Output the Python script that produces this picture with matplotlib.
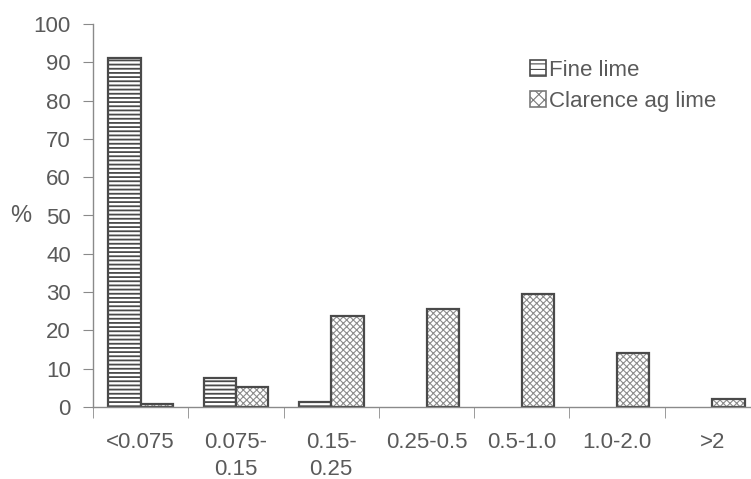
import matplotlib.pyplot as plt
from matplotlib.patches import Patch
import numpy as np

plt.rcParams['font.family'] = ['Liberation Sans', 'DejaVu Sans']

# size classes (mm) and % in each class
categories = ['<0.075', '0.075-\n0.15', '0.15-\n0.25', '0.25-0.5', '0.5-1.0', '1.0-2.0', '>2']
fine_lime = [91, 7.7, 1.3, 0, 0, 0, 0]
clarence = [0.8, 5.3, 23.8, 25.6, 29.5, 14.2, 2.2]

text_col = '#5a5a5a'
edge_col = '#4a4a4a'
axis_col = '#8a8a8a'

fig = plt.figure(figsize=(7.51, 4.79), dpi=100)
ax = fig.add_axes([93 / 751, 72 / 479, 667 / 751, 383 / 479])

x = np.arange(len(categories))
w = 0.34

# empty classes are not drawn at all
fx = [i for i, v in enumerate(fine_lime) if v > 0]
fv = [fine_lime[i] for i in fx]
cx = [i for i, v in enumerate(clarence) if v > 0]
cv = [clarence[i] for i in cx]

# Fine lime: dense horizontal stripes
plt.rcParams['hatch.linewidth'] = 1.3
ax.bar(np.array(fx) - w / 2, fv, w, color='white', edgecolor=edge_col,
       hatch='----', linewidth=1.6)

# Clarence ag lime: fine grey cross pattern, outline drawn on top
plt.rcParams['hatch.linewidth'] = 0.8
ax.bar(np.array(cx) + w / 2, cv, w, color='white', edgecolor='#8c8c8c',
       hatch='xxxxx', linewidth=0)
ax.bar(np.array(cx) + w / 2, cv, w, color='none', edgecolor=edge_col,
       linewidth=1.6)

handles = [
    Patch(facecolor='white', edgecolor=edge_col, hatch='---', linewidth=1.2, label='Fine lime'),
    Patch(facecolor='white', edgecolor='#7a7a7a', hatch='xxx', linewidth=1.2, label='Clarence ag lime'),
]

ax.set_xlim(-0.5, len(categories) - 0.5)
ax.set_ylim(0, 100)
ax.set_yticks(np.arange(0, 101, 10))
ax.set_xticks(x)
ax.set_xticklabels(categories, fontsize=16, color=text_col, linespacing=1.4)
ax.set_xticks(np.arange(-0.5, len(categories) + 0.5, 1), minor=True)
ax.tick_params(axis='x', which='major', length=0, pad=18)
ax.tick_params(axis='x', which='minor', length=8, color=axis_col, direction='out')
ax.tick_params(axis='y', length=7, color=axis_col, labelsize=16, labelcolor=text_col, pad=9)

for side in ['top', 'right']:
    ax.spines[side].set_visible(False)
for side in ['left', 'bottom']:
    ax.spines[side].set_color(axis_col)
    ax.spines[side].set_linewidth(1.0)

ax.set_ylabel('%', rotation=0, fontsize=17, color=text_col, va='center')
ax.yaxis.set_label_coords(-0.108, 0.5)

leg = ax.legend(handles=handles, loc='upper left', bbox_to_anchor=(0.642, 0.93),
                frameon=False, fontsize=16, handlelength=0.7, handleheight=0.7,
                handletextpad=0.15, labelspacing=0.45, borderaxespad=0)
for t in leg.get_texts():
    t.set_color(text_col)

fig.savefig('out.png', dpi=100)
